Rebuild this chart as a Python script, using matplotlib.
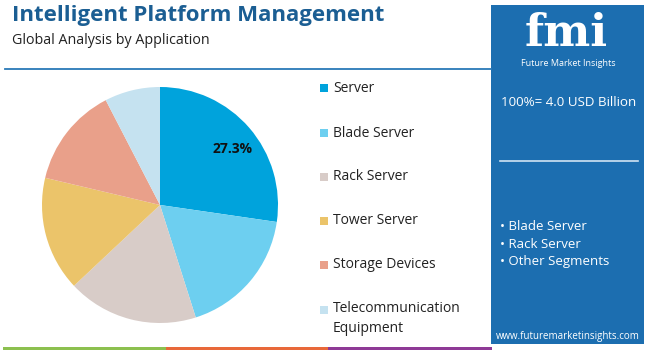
import numpy as np
import matplotlib
matplotlib.use("Agg")
from matplotlib import pyplot as plt
from matplotlib.patches import Rectangle

plt.rcParams['font.family'] = ['Open Sans', 'DejaVu Sans']

# data
segments = ["Server", "Blade Server", "Rack Server", "Tower Server",
            "Storage Devices", "Telecommunication\nEquipment"]
shares = [27.3, 17.8, 17.9, 15.7, 13.7, 7.6]
colors = ["#00a3dc", "#6dcff0", "#d8ccc8", "#ebc46a", "#e9a08a", "#c5e2f0"]
key_segments = ["Blade Server", "Rack Server", "Other Segments"]
market_size = "100%= 4.0 USD Billion"

W, H = 650, 351
fig = plt.figure(figsize=(W / 100, H / 100), dpi=100)
fig.patch.set_facecolor("white")


def fx(px):
    return px / W


def fy(py):
    return 1 - py / H


# title block
fig.text(fx(12), fy(16), "Intelligent Platform Management", fontsize=16,
         fontweight="bold", color="#1b5e93", va="center", ha="left")
fig.text(fx(12), fy(40), "Global Analysis by Application", fontsize=10.3,
         color="#222222", va="center", ha="left")
fig.add_artist(plt.Line2D([fx(5), fx(491)], [fy(69), fy(69)], color="#2a7ab8",
                          lw=1.3, transform=fig.transFigure))

# bottom colour strip
for x0, x1, c in [(3, 166, "#8cc04f"), (166, 328, "#e8683a"), (328, 492, "#8e3a96")]:
    fig.add_artist(Rectangle((fx(x0), fy(350)), fx(x1 - x0), 3 / H,
                             color=c, transform=fig.transFigure, lw=0))

# pie
cx, cy, r = 160, 205, 118
ax = fig.add_axes([fx(cx - r), fy(cy + r), fx(2 * r), 2 * r / H])
wedges, _ = ax.pie(shares, colors=colors, startangle=90, counterclock=False,
                   wedgeprops=dict(linewidth=0))
ax.set_xlim(-1, 1)
ax.set_ylim(-1, 1)
ax.set_aspect("equal")
w0 = wedges[0]
mid = np.deg2rad((w0.theta1 + w0.theta2) / 2 - 3)
ax.text(0.78 * np.cos(mid), 0.78 * np.sin(mid), f"{shares[0]}%",
        ha="center", va="center", fontsize=10, fontweight="bold", color="#111111")

# legend
rows_y = [88, 133, 177, 221, 265, 310]
for name, c, yy in zip(segments, colors, rows_y):
    fig.add_artist(Rectangle((fx(320), fy(yy + 4)), fx(8), 8 / H, color=c,
                             transform=fig.transFigure, lw=0))
    if "\n" in name:
        fig.text(fx(333), fy(yy - 9), name, fontsize=10, color="#222222",
                 va="top", ha="left", linespacing=1.5)
    else:
        fig.text(fx(333), fy(yy), name, fontsize=10, color="#222222",
                 va="center", ha="left")

# right panel
fig.add_artist(Rectangle((fx(491), fy(344)), fx(153), 339 / H, color="#1c6eb0",
                         transform=fig.transFigure, lw=0))
fig.text(fx(566), fy(46), "fmi", fontsize=32, fontweight="bold", color="white",
         family=["DejaVu Serif"], ha="center", va="baseline")
fig.text(fx(568), fy(63), "Future Market Insights", fontsize=6.5, color="white",
         ha="center", va="center")
fig.text(fx(569), fy(102), market_size, fontsize=9.6, color="white",
         ha="center", va="center")
fig.add_artist(plt.Line2D([fx(500), fx(638)], [fy(161), fy(161)], color="#cfe3f3",
                          lw=1.2, transform=fig.transFigure))
for i, s in enumerate(key_segments):
    fig.text(fx(500), fy(227 + 17.5 * i), "\u2022 " + s, fontsize=9.5, color="white",
             ha="left", va="center")
fig.text(fx(568), fy(336), "www.futuremarketinsights.com", fontsize=7, color="white",
         ha="center", va="center")

fig.savefig("out.png", dpi=100, facecolor="white")
